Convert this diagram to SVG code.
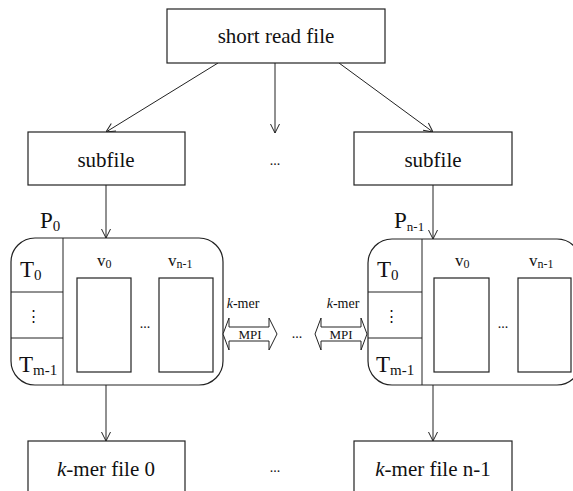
<svg xmlns="http://www.w3.org/2000/svg" width="573" height="491" viewBox="0 0 573 491" font-family="'Liberation Serif', 'Times New Roman', 'DejaVu Serif', serif">
  <defs>
    <style>
      .box { fill: #fff; stroke: #222; stroke-width: 1.2; }
      .ln { fill: none; stroke: #222; stroke-width: 1; }
      text { font-family: 'Liberation Serif', 'Times New Roman', 'DejaVu Serif', serif; fill: #111; }
      .big { font-size: 21px; }
      .lbl { font-size: 23px; }
      .mid { font-size: 17px; }
      .sm { font-size: 14px; }
      .sub { font-size: 15px; }
      .vs { font-size: 12px; }
      .vdots { font-family: 'DejaVu Serif', serif; font-size: 15px; }
      .mpi { fill: #fff; stroke: #222; stroke-width: 1; }
    </style>
    <marker id="ah" viewBox="0 0 10 10" refX="10" refY="5" markerWidth="10" markerHeight="10" markerUnits="userSpaceOnUse" orient="auto">
      <path d="M1,0.5 L10,5 L1,9.5" fill="none" stroke="#222" stroke-width="1"/>
    </marker>
  </defs>

  <rect width="573" height="491" fill="#fff"/>

  <!-- connectors -->
  <g id="connectors">
    <line class="ln" x1="218" y1="63" x2="106" y2="132" marker-end="url(#ah)"/>
    <line class="ln" x1="275" y1="63" x2="275" y2="133" marker-end="url(#ah)"/>
    <line class="ln" x1="339" y1="63" x2="433" y2="132" marker-end="url(#ah)"/>
    <line class="ln" x1="106" y1="185" x2="106" y2="238" marker-end="url(#ah)"/>
    <line class="ln" x1="433" y1="185" x2="433" y2="239" marker-end="url(#ah)"/>
    <line class="ln" x1="106" y1="385" x2="106" y2="441" marker-end="url(#ah)"/>
    <line class="ln" x1="433" y1="385" x2="433" y2="441" marker-end="url(#ah)"/>
  </g>

  <!-- top file -->
  <g id="short-read-file">
    <rect class="box" x="167" y="9" width="218" height="54"/>
    <text class="big" x="276" y="43" text-anchor="middle">short read file</text>
  </g>

  <g id="subfile-0">
    <rect class="box" x="28" y="132" width="157" height="53"/>
    <text class="big" x="106" y="167" text-anchor="middle">subfile</text>
  </g>
  <text class="sm" x="275" y="165" text-anchor="middle">...</text>
  <g id="subfile-n1">
    <rect class="box" x="354" y="132" width="158" height="53"/>
    <text class="big" x="433" y="167" text-anchor="middle">subfile</text>
  </g>

  <!-- process P0 -->
  <g id="process-0">
    <text class="lbl" x="40" y="228">P<tspan class="sub" dy="3">0</tspan></text>
    <rect class="box" x="11" y="238" width="212" height="147" rx="24" ry="24"/>
    <line class="ln" x1="63" y1="238" x2="63" y2="385"/>
    <line class="ln" x1="11" y1="292" x2="63" y2="292"/>
    <line class="ln" x1="11" y1="338" x2="63" y2="338"/>
    <text class="lbl" x="20" y="277">T<tspan class="sub" dy="3">0</tspan></text>
    <text class="vdots" x="33" y="321" text-anchor="middle">⋮</text>
    <text class="lbl" x="19" y="372">T<tspan class="sub" dy="3">m-1</tspan></text>
    <text class="mid" x="97" y="266">v<tspan class="vs" dy="2">0</tspan></text>
    <text class="mid" x="168" y="266">v<tspan class="vs" dy="2">n-1</tspan></text>
    <rect class="box" x="77" y="278" width="54" height="94"/>
    <rect class="box" x="159" y="278" width="54" height="94"/>
    <text class="sm" x="145" y="328" text-anchor="middle">...</text>
  </g>

  <!-- MPI links -->
  <g id="mpi-0">
    <text class="sm" x="243" y="308" text-anchor="middle"><tspan font-style="italic">k</tspan>-mer</text>
    <path class="mpi" d="M223,334 L229,318 L229,327 L269,327 L269,318 L277,334 L269,350 L269,341 L229,341 L229,350 Z"/>
    <text x="250" y="339" text-anchor="middle" font-size="13">MPI</text>
  </g>
  <text class="sm" x="297" y="338" text-anchor="middle">...</text>
  <g id="mpi-n1">
    <text class="sm" x="343" y="308" text-anchor="middle"><tspan font-style="italic">k</tspan>-mer</text>
    <path class="mpi" d="M315,334 L321,318 L321,327 L361,327 L361,318 L367,334 L361,350 L361,341 L321,341 L321,350 Z"/>
    <text x="341" y="339" text-anchor="middle" font-size="13">MPI</text>
  </g>

  <!-- process Pn-1 -->
  <g id="process-n1">
    <text class="lbl" x="394" y="228">P<tspan dy="3" font-size="13">n-1</tspan></text>
    <rect class="box" x="368" y="239" width="213" height="146" rx="24" ry="24"/>
    <line class="ln" x1="422" y1="239" x2="422" y2="385"/>
    <line class="ln" x1="368" y1="292" x2="422" y2="292"/>
    <line class="ln" x1="368" y1="338" x2="422" y2="338"/>
    <text class="lbl" x="377" y="277">T<tspan class="sub" dy="3">0</tspan></text>
    <text class="vdots" x="391" y="321" text-anchor="middle">⋮</text>
    <text class="lbl" x="376" y="372">T<tspan class="sub" dy="3">m-1</tspan></text>
    <text class="mid" x="455" y="266">v<tspan class="vs" dy="2">0</tspan></text>
    <text class="mid" x="529" y="266">v<tspan class="vs" dy="2">n-1</tspan></text>
    <rect class="box" x="434" y="278" width="55" height="94"/>
    <rect class="box" x="518" y="278" width="53" height="94"/>
    <text class="sm" x="503" y="328" text-anchor="middle">...</text>
  </g>

  <!-- output files -->
  <g id="kmer-file-0">
    <rect class="box" x="28" y="441" width="157" height="60"/>
    <text class="big" x="106" y="476" text-anchor="middle"><tspan font-style="italic">k</tspan>-mer file 0</text>
  </g>
  <text class="sm" x="275" y="472" text-anchor="middle">...</text>
  <g id="kmer-file-n1">
    <rect class="box" x="354" y="441" width="158" height="60"/>
    <text class="big" x="433" y="476" text-anchor="middle"><tspan font-style="italic">k</tspan>-mer file n-1</text>
  </g>
</svg>
